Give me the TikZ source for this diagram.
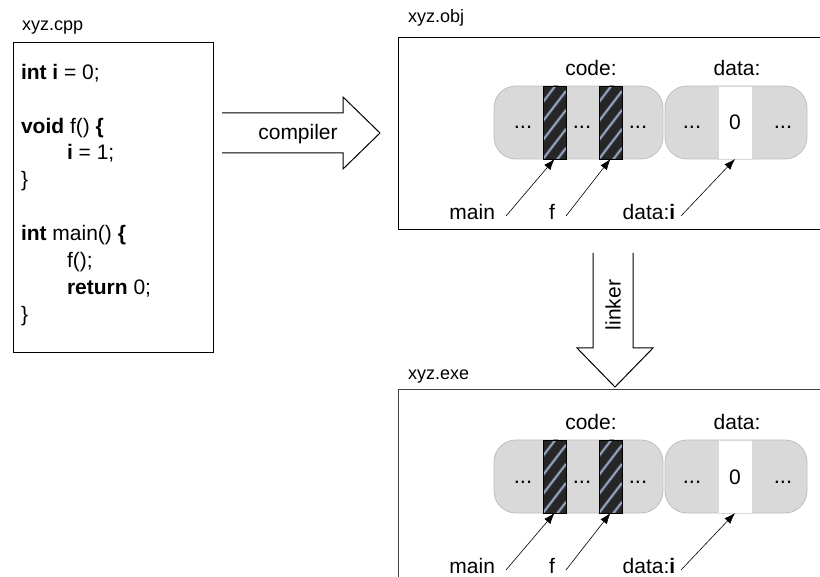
\documentclass[tikz,border=0pt]{standalone}
\usepackage{fontspec}
\setmainfont{Liberation Sans}
\usetikzlibrary{arrows.meta}
\definecolor{cellgray}{RGB}{217,217,217}
\definecolor{cellline}{RGB}{190,190,190}
\definecolor{stripedark}{RGB}{38,38,38}
\definecolor{stripelite}{RGB}{160,180,210}
\tikzset{
 every node/.style={inner sep=0pt, outer sep=0pt},
 title/.style={font=\fontsize{18}{22}\selectfont, anchor=west},
 codeline/.style={font=\fontsize{21}{27}\selectfont, anchor=base west},
 lbl/.style={font=\fontsize{21}{25}\selectfont},
 dots/.style={font=\fontsize{22}{25}\selectfont, anchor=base},
 frame/.style={draw, line width=1pt},
 blockarrow/.style={draw, line width=1pt, fill=white},
 ptr/.style={-{Latex[length=11pt,width=8pt]}, line width=0.6pt},
 memblock/.style={draw=cellline, fill=cellgray, rounded corners=22pt, line width=0.8pt, minimum height=73pt},
 stripecell/.style={draw=black, line width=0.8pt, fill=stripedark, minimum width=23pt, minimum height=73pt,
   path picture={\foreach \k in {-2,...,5}{
     \draw[stripelite!45!stripedark, line width=3pt] ([yshift=\k*19pt]path picture bounding box.south west) -- ([yshift=\k*19pt+30pt]path picture bounding box.south east);
     \draw[stripelite, line width=1.1pt] ([yshift=\k*19pt]path picture bounding box.south west) -- ([yshift=\k*19pt+30pt]path picture bounding box.south east);}}},
 whitecell/.style={draw=cellline!60, fill=white, line width=0.6pt, minimum width=34pt, minimum height=73pt},
}
\begin{document}
\begin{tikzpicture}[x=1pt,y=-1pt]
\useasboundingbox (0,0) rectangle (820,577);
\clip (0,0) rectangle (820,577);

% source file
\node[title] (tcpp) at (22,28) {xyz.cpp};
\node[frame, minimum width=200pt, minimum height=310pt] (cpp) at (113,198) {};
\node[codeline] (c1) at (21,80) {\textbf{int i} = 0;};
\node[codeline] (c2) at (21,134) {\textbf{void} f() {\bfseries\{}};
\node[codeline] (c3) at (67,160) {\textbf{i} = 1;};
\node[codeline] (c4) at (21,187) {\}};
\node[codeline] (c5) at (21,241) {\textbf{int} main() \textbf{\{}};
\node[codeline] (c6) at (67,268) {f();};
\node[codeline] (c7) at (67,295) {\textbf{return} 0;};
\node[codeline] (c8) at (21,322) {\}};

% compiler arrow
\draw[blockarrow] (222,113) -- (343,113) -- (343,97) -- (380,133) -- (343,169) -- (343,153) -- (222,153);
\node[lbl] (comp) at (298,134) {compiler};

% object and executable frames
\node[title] (tobj) at (408,18) {xyz.obj};
\node[frame, minimum width=442pt, minimum height=192pt] (obj) at (619,134) {};
\node[title] (texe) at (408,377) {xyz.exe};
\node[frame, draw=black!75, minimum width=442pt, minimum height=210pt] (exe) at (619,495) {};

% linker arrow
\draw[blockarrow] (593,253) -- (593,348) -- (577,348) -- (615,387) -- (653,348) -- (633,348) -- (633,253);
\node[lbl, rotate=90] (link) at (613,305) {linker};

% memory layouts
\foreach \dy/\s in {0/o,354/e}{
  \node[lbl] (code\s) at (591,68+\dy) {code:};
  \node[lbl] (data\s) at (737,68+\dy) {data:};
  \node[memblock, minimum width=169pt] (cb\s) at (578.5,122.5+\dy) {};
  \node[memblock, minimum width=142pt] (db\s) at (736,122.5+\dy) {};
  \node[stripecell] (sm\s) at (554.5,122.5+\dy) {};
  \node[stripecell] (sf\s) at (610.5,122.5+\dy) {};
  \node[whitecell] (wc\s) at (735,122.5+\dy) {};
  \node[dots] (d1\s) at (523,129+\dy) {...};
  \node[dots] (d2\s) at (582,129+\dy) {...};
  \node[dots] (d3\s) at (638,129+\dy) {...};
  \node[dots] (d4\s) at (692,129+\dy) {...};
  \node[dots] (d5\s) at (783,129+\dy) {...};
  \node[lbl, anchor=base] (zero\s) at (735,130+\dy) {0};
  \node[lbl, anchor=east] (ml\s) at (495,212+\dy) {main};
  \node[lbl] (fl\s) at (552,212+\dy) {f};
  \node[lbl] (dl\s) at (649,212+\dy) {data:\textbf{i}};
  \coordinate (mt\s) at (506,216+\dy);
  \coordinate (ft\s) at (566,216+\dy);
  \coordinate (dt\s) at (681,216+\dy);
  \draw[ptr] (mt\s) -- (sm\s.south);
  \draw[ptr] (ft\s) -- (sf\s.south);
  \draw[ptr] (dt\s) -- (wc\s.south);
}
\end{tikzpicture}
\end{document}
